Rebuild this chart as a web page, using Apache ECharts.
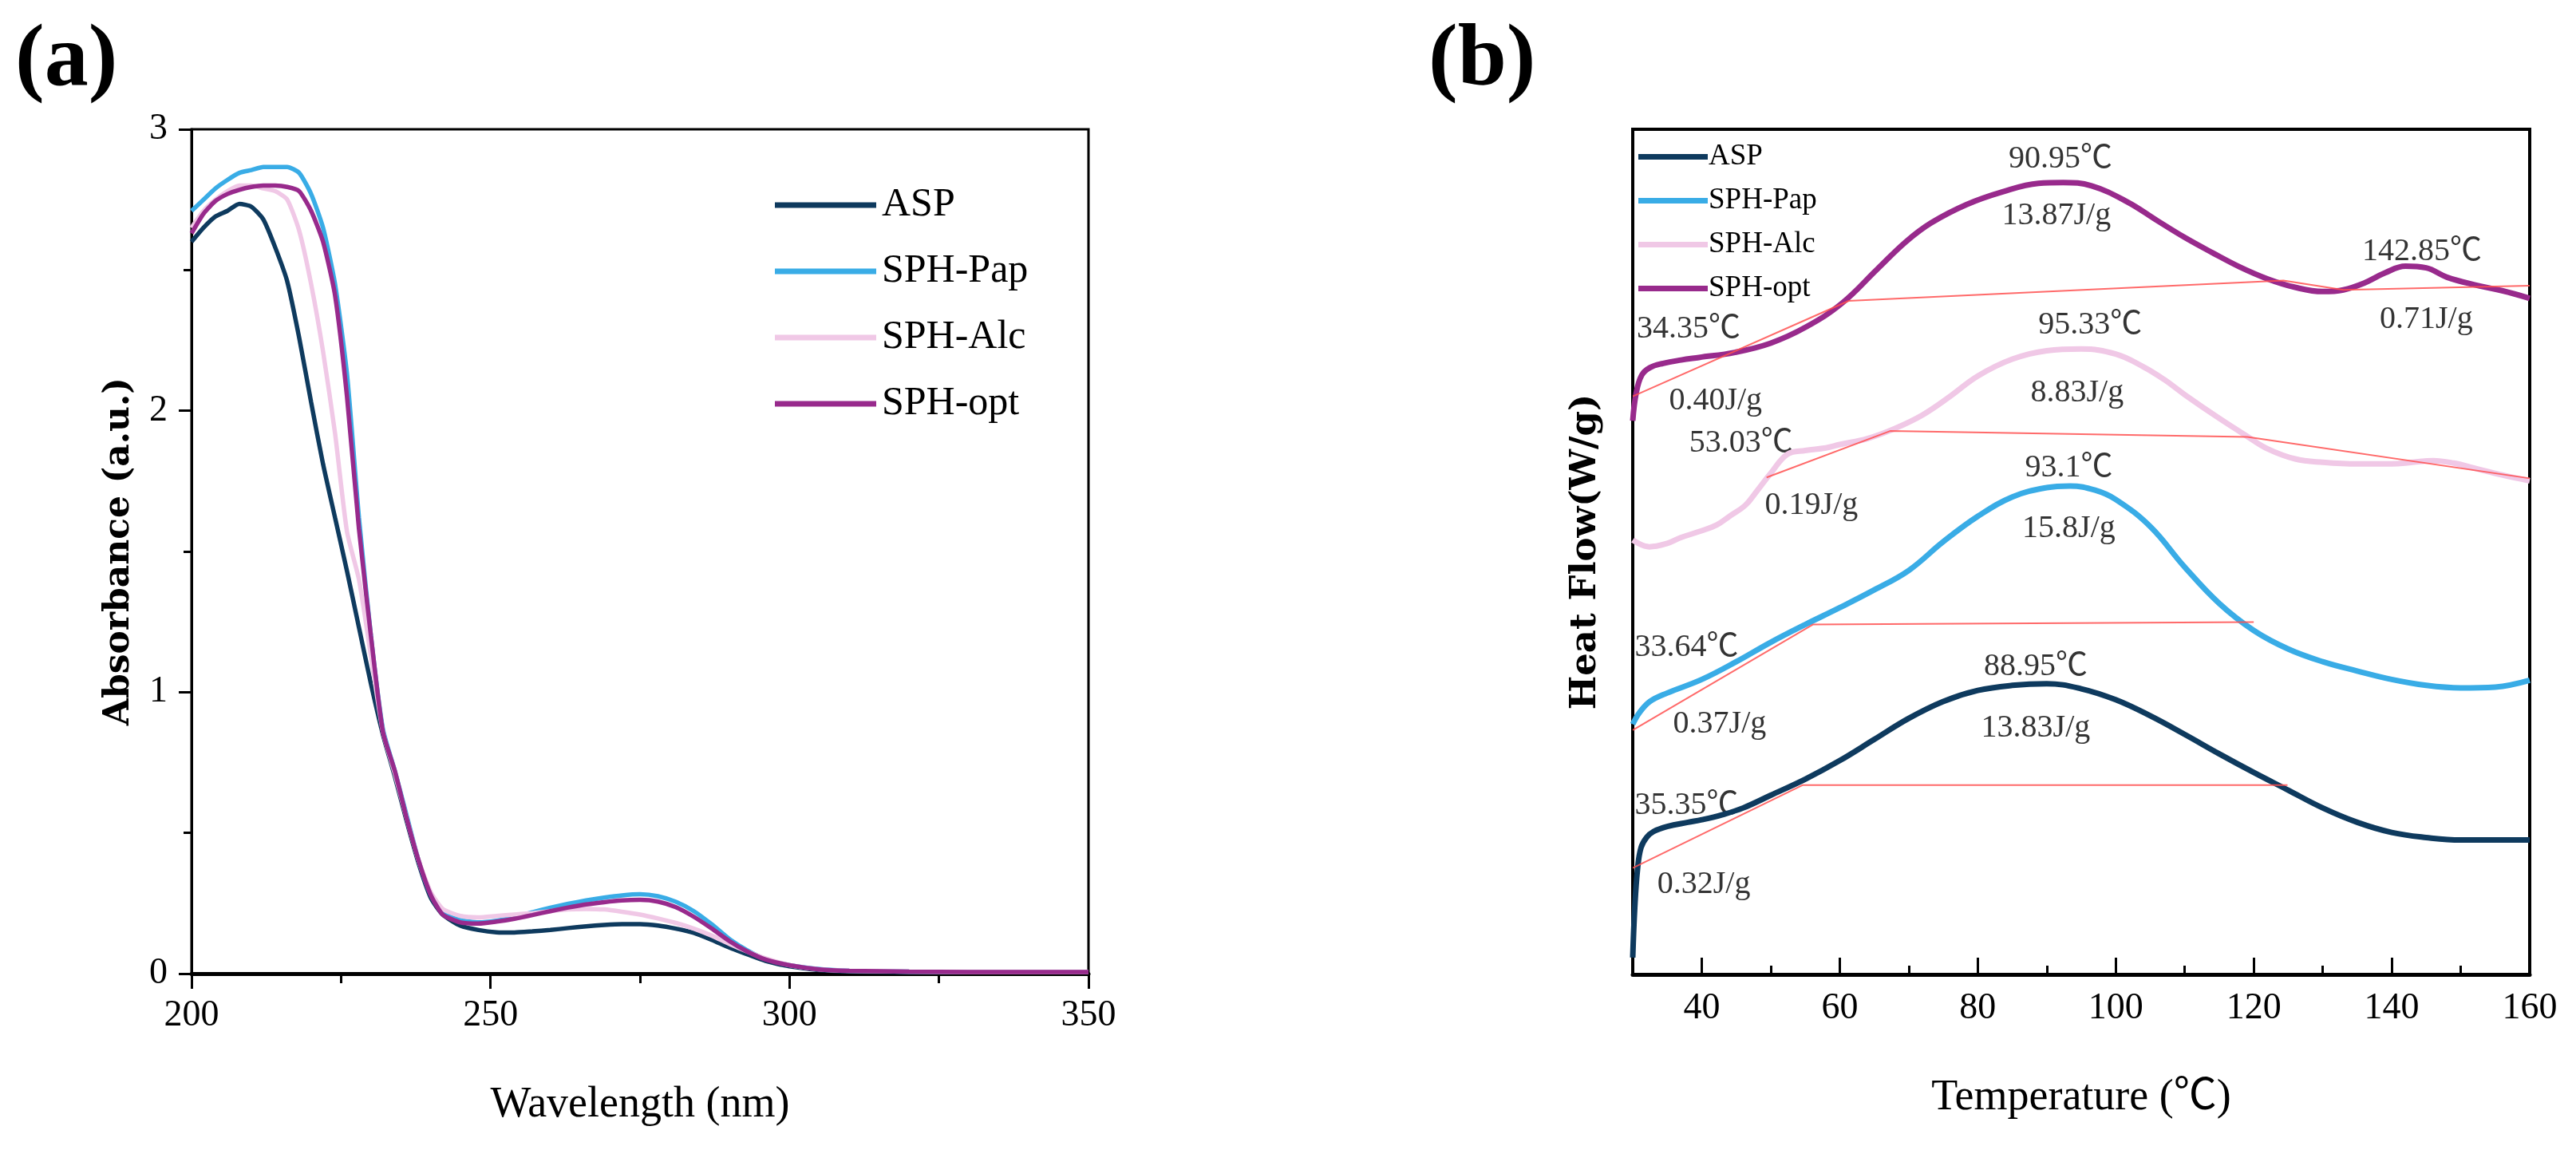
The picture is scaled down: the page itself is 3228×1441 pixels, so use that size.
<!DOCTYPE html>
<html>
<head>
<meta charset="utf-8">
<script src="https://cdn.jsdelivr.net/npm/echarts@6/dist/echarts.min.js"></script>
<style>
html, body { margin: 0; background: #fff; }
#chart { width: 3228px; height: 1441px; }
</style>
</head>
<body>
<div id="chart"></div>
<script>
// (a) UV spectra
var wavelength = [200,202,204,206,208,210,212,214,216,218,220,222,224,226,228,230,232,234,236,238,240,242,245,248,251,254,257,260,263,266,269,272,275,278,281,284,287,290,293,296,300,305,310,320,330,340,350];
var absASP = [2.60,2.65,2.69,2.71,2.735,2.725,2.68,2.58,2.46,2.26,2.03,1.81,1.62,1.43,1.23,1.03,0.85,0.70,0.54,0.39,0.27,0.21,0.17,0.155,0.147,0.146,0.15,0.155,0.162,0.168,0.173,0.176,0.176,0.171,0.16,0.145,0.12,0.092,0.068,0.045,0.026,0.013,0.008,0.005,0.005,0.005,0.005];
var absPap = [2.71,2.75,2.79,2.82,2.845,2.855,2.866,2.866,2.866,2.845,2.77,2.65,2.45,2.13,1.62,1.20,0.87,0.72,0.56,0.40,0.28,0.215,0.19,0.182,0.188,0.20,0.218,0.234,0.248,0.26,0.27,0.278,0.282,0.275,0.255,0.222,0.175,0.122,0.082,0.052,0.03,0.016,0.01,0.007,0.006,0.006,0.006];
var absAlc = [2.65,2.71,2.75,2.78,2.80,2.80,2.79,2.78,2.75,2.64,2.45,2.21,1.92,1.57,1.40,1.13,0.86,0.71,0.55,0.40,0.29,0.23,0.205,0.20,0.205,0.21,0.215,0.222,0.228,0.23,0.228,0.22,0.21,0.196,0.18,0.16,0.135,0.105,0.078,0.054,0.03,0.015,0.01,0.007,0.006,0.006,0.006];
var absOpt = [2.63,2.70,2.745,2.77,2.785,2.795,2.80,2.80,2.795,2.78,2.71,2.60,2.41,2.05,1.58,1.20,0.86,0.72,0.55,0.40,0.28,0.21,0.182,0.178,0.185,0.195,0.208,0.222,0.235,0.246,0.254,0.26,0.262,0.256,0.236,0.202,0.16,0.115,0.078,0.05,0.03,0.015,0.01,0.007,0.006,0.006,0.006];

// (b) DSC curves (heat flow, arbitrary offset units)
var tempASP = [30,30.3,30.7,31.2,32,33,35,38,40,43,46,50,55,60,65,70,75,80,85,90,95,100,105,110,115,120,125,130,135,140,145,150,155,160];
var flowASP = [2,8,12.5,15,16.2,16.9,17.5,18.0,18.3,18.9,19.7,21.2,23.1,25.3,27.8,30.3,32.3,33.6,34.2,34.4,33.8,32.5,30.6,28.4,26.1,23.9,21.8,19.7,18.0,16.8,16.2,15.9,15.9,15.9];
var tempPap = [30,31,32.5,35,40,45,50,55,60,65,70,75,80,85,90,93.4,97,100,105,110,115,120,125,130,135,140,145,150,155,160];
var flowPap = [29.6,31.0,32.3,33.3,34.9,37.0,39.3,41.4,43.4,45.5,47.8,51.2,54.2,56.5,57.6,57.8,57.3,56.2,53.0,48.2,43.9,40.7,38.5,37.0,35.9,34.9,34.2,33.9,34.0,34.8];
var tempAlc = [30,32.4,35,37,40,42.2,44,46.3,48,50,52.5,55,58,60,64,68,72,76,80,85,90,95,100,104,107,110,115,119,122,126,130,135,140,143,146,149,152,156,160];
var flowAlc = [51.4,50.6,51.0,51.7,52.5,53.2,54.2,55.5,57.2,59.3,61.6,62.0,62.3,62.7,63.4,64.6,66.2,68.4,70.8,72.8,73.8,74.0,73.4,71.9,70.4,68.6,65.8,63.7,62.2,61.0,60.6,60.4,60.4,60.6,60.8,60.5,59.9,59.1,58.4];
var tempOpt = [30,30.5,31.3,32.5,34.4,37,39.6,44.8,50,55.1,60.3,65.5,69.6,73.2,78.4,83.6,88.8,92.4,96.5,101.7,106,110,114,118,122,126,130,133,136,139,142,145,148,152,156,160];
var flowOpt = [65.5,68.8,70.9,71.8,72.3,72.7,73.0,73.6,74.7,76.6,79.4,83.5,86.7,88.9,91.1,92.6,93.6,93.7,93.3,91.4,89.2,87.2,85.4,83.7,82.3,81.3,80.8,81.0,81.8,83.0,83.8,83.6,82.5,81.6,80.9,80.0];

// red tangent baselines
var baseASPx = [30,54.6,124.9], baseASPy = [12.6,22.4,22.4];
var basePapx = [30,56.1,120],   basePapy = [28.9,41.4,41.7];
var baseAlcx = [49.4,67.3,119.1,160], baseAlcy = [58.8,64.3,63.6,58.7];
var baseOptx = [30,61.3,124.3,133,160], baseOpty = [68.4,79.7,82.1,81.0,81.5];

// annotations on (b)
var noteText = ['90.95℃','13.87J/g','142.85℃','0.71J/g','34.35℃','0.40J/g','95.33℃','8.83J/g','53.03℃','0.19J/g','93.1℃','15.8J/g','33.64℃','0.37J/g','88.95℃','13.83J/g','35.35℃','0.32J/g'];
var noteT = [92.0,91.4,144.4,145.0,38.1,42.0,96.3,94.4,45.7,55.9,93.2,93.2,37.8,42.6,88.4,88.4,37.8,40.3];
var noteV = [96.5,89.8,85.5,77.5,76.3,67.8,76.8,68.8,62.8,55.5,59.9,52.7,38.7,29.6,36.4,29.1,20.0,10.6];

var names = ['ASP','SPH-Pap','SPH-Alc','SPH-opt'];
var colors = ['#0e3a5e','#39ace6','#f0c8e6','#982a8c'];

var serif = '"Liberation Serif", "Noto Sans CJK SC", serif';

function zip(xs, ys) {
    return xs.map(function (x, i) { return [x, ys[i]]; });
}

var chart = echarts.init(document.getElementById('chart'));

var series = [];
var absList = [absASP, absPap, absAlc, absOpt];
for (var i = 0; i < 4; i++) {
    series.push({
        name: names[i], type: 'line', xAxisIndex: 0, yAxisIndex: 0,
        data: zip(wavelength, absList[i]), showSymbol: false, smooth: 0.2,
        lineStyle: { width: 5.5, color: colors[i] }, itemStyle: { color: colors[i] }
    });
}
var tList = [tempASP, tempPap, tempAlc, tempOpt];
var fList = [flowASP, flowPap, flowAlc, flowOpt];
for (var i = 0; i < 4; i++) {
    series.push({
        name: names[i], type: 'line', xAxisIndex: 1, yAxisIndex: 1,
        data: zip(tList[i], fList[i]), showSymbol: false, smooth: 0.4,
        lineStyle: { width: 7, color: colors[i] }, itemStyle: { color: colors[i] }
    });
}
var bases = [[baseASPx, baseASPy], [basePapx, basePapy], [baseAlcx, baseAlcy], [baseOptx, baseOpty]];
bases.forEach(function (b, i) {
    series.push({
        name: 'base' + i, type: 'line', xAxisIndex: 1, yAxisIndex: 1,
        data: zip(b[0], b[1]), showSymbol: false, silent: true,
        lineStyle: { width: 2, color: '#ff5050', opacity: 0.85 }, z: 3
    });
});
series.push({
    name: 'notes', type: 'scatter', xAxisIndex: 1, yAxisIndex: 1,
    symbolSize: 0.1, silent: true,
    data: noteText.map(function (t, i) { return { name: t, value: [noteT[i], noteV[i]] }; }),
    label: {
        show: true, position: 'inside', formatter: function (p) { return p.name; },
        fontFamily: serif, fontSize: 40, color: '#000'
    }
});

var tickLabel = { fontFamily: serif, fontSize: 46, color: '#000' };
var axisTitle = { fontFamily: serif, fontSize: 54, color: '#000' };

chart.setOption({
    animation: false,
    backgroundColor: '#fff',
    title: [
        { text: '(a)', left: 14, top: 18, textStyle: { fontFamily: serif, fontWeight: 'bold', fontSize: 110, color: '#000' } },
        { text: '(b)', left: 1785, top: 18, textStyle: { fontFamily: serif, fontWeight: 'bold', fontSize: 110, color: '#000' } }
    ],
    legend: [
        {
            data: names, left: 966, top: 227, orient: 'vertical',
            icon: 'rect', itemWidth: 127, itemHeight: 7, itemGap: 33,
            textStyle: { fontFamily: serif, fontSize: 50, lineHeight: 50, color: '#000', padding: [0, 0, 0, 2] }
        },
        {
            data: names, left: 2048, top: 173, orient: 'vertical',
            icon: 'rect', itemWidth: 87, itemHeight: 7, itemGap: 18,
            textStyle: { fontFamily: serif, fontSize: 37, lineHeight: 36, color: '#000', padding: [0, 0, 0, -4] }
        }
    ],
    grid: [
        { left: 240, top: 162, width: 1124, height: 1058, show: true, borderColor: '#000', borderWidth: 3 },
        { left: 2046, top: 162, width: 1124, height: 1059, show: true, borderColor: '#000', borderWidth: 4 }
    ],
    xAxis: [
        {
            gridIndex: 0, type: 'value', min: 200, max: 350, interval: 50,
            axisLine: { lineStyle: { color: '#000', width: 5 } },
            axisTick: { inside: false, length: 19, lineStyle: { color: '#000', width: 3 } },
            minorTick: { show: true, splitNumber: 2, length: 12, lineStyle: { color: '#000', width: 3 } },
            axisLabel: Object.assign({ margin: 30 }, tickLabel),
            splitLine: { show: false },
            name: 'Wavelength (nm)', nameLocation: 'middle', nameGap: 138, nameTextStyle: axisTitle
        },
        {
            gridIndex: 1, type: 'value', min: 30, max: 160, position: 'bottom',
            axisLine: { lineStyle: { color: '#000', width: 5 } },
            axisTick: { inside: true, length: 21, customValues: [40, 60, 80, 100, 120, 140, 160], lineStyle: { color: '#000', width: 3 } },
            axisLabel: Object.assign({ margin: 20, customValues: [40, 60, 80, 100, 120, 140, 160] }, tickLabel),
            splitLine: { show: false },
            name: 'Temperature (℃)', nameLocation: 'middle', nameGap: 128, nameTextStyle: axisTitle
        },
        {
            gridIndex: 1, type: 'value', min: 30, max: 160, position: 'bottom',
            axisLine: { show: false },
            axisTick: { inside: true, length: 11, customValues: [50, 70, 90, 110, 130, 150], lineStyle: { color: '#000', width: 3 } },
            axisLabel: { show: false, customValues: [50, 70, 90, 110, 130, 150] },
            splitLine: { show: false }
        }
    ],
    yAxis: [
        {
            gridIndex: 0, type: 'value', min: 0, max: 3, interval: 1,
            axisLine: { show: true, lineStyle: { color: '#000', width: 3 } },
            axisTick: { show: true, inside: false, length: 16, lineStyle: { color: '#000', width: 3 } },
            minorTick: { show: true, splitNumber: 2, length: 10, lineStyle: { color: '#000', width: 3 } },
            axisLabel: Object.assign({ margin: 30 }, tickLabel),
            splitLine: { show: false },
            name: 'Absorbance (a.u.)', nameLocation: 'middle', nameGap: 68,
            nameTextStyle: { fontFamily: '"DejaVu Serif", serif', fontWeight: 'bold', fontSize: 44, color: '#000' }
        },
        {
            gridIndex: 1, type: 'value', min: 0, max: 100,
            axisLine: { show: true, lineStyle: { color: '#000', width: 3 } },
            axisTick: { show: false }, axisLabel: { show: false },
            splitLine: { show: false },
            name: 'Heat Flow(W/g)', nameLocation: 'middle', nameGap: 36,
            nameTextStyle: { fontFamily: '"DejaVu Serif", serif', fontWeight: 'bold', fontSize: 45, color: '#000' }
        }
    ],
    series: series
});
</script>
</body>
</html>
